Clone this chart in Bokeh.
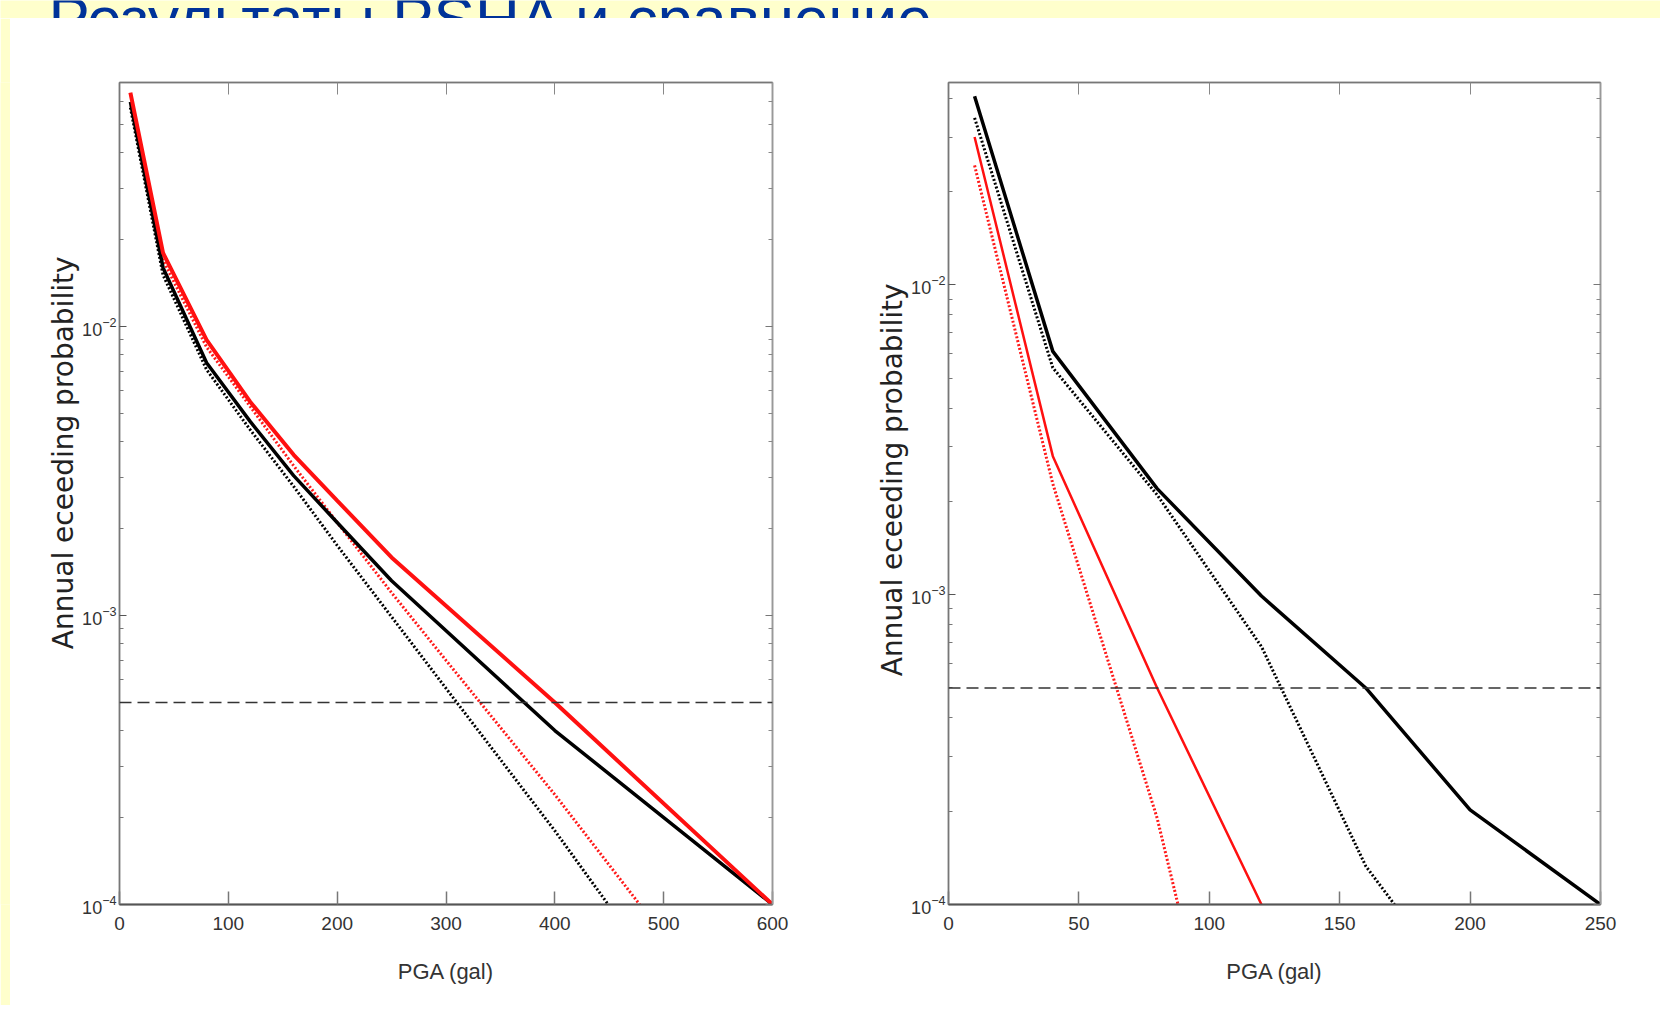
import math
from bokeh.plotting import figure
from bokeh.models import Range1d, FixedTicker, LinearAxis, LogAxis, Span, Title
from bokeh.layouts import column, row
from bokeh.embed import file_html
from bokeh.resources import INLINE
from bokeh.core.properties import value

# ---------------- data ----------------
title_text = "Результаты PSHA и сравнение"
x_label = "PGA (gal)"
y_label = "Annual eceeding probability"
threshold = 5e-4

left_xticks = [0, 100, 200, 300, 400, 500, 600]
right_xticks = [0, 50, 100, 150, 200, 250]
y_major = [1e-4, 1e-3, 1e-2]

# left panel
left_red_solid_pga = [10, 40, 80, 120, 160, 200, 250, 400, 600]
left_red_solid_p = [0.0646, 0.0180, 0.0090, 0.0055, 0.0036, 0.0025, 0.00159, 0.0005, 0.0001]
left_black_solid_pga = [10, 40, 80, 120, 160, 200, 250, 400, 600]
left_black_solid_p = [0.060, 0.0160, 0.0075, 0.0047, 0.00305, 0.0021, 0.00132, 0.0004, 0.0001]
left_red_dot_pga = [10, 40, 80, 120, 160, 200, 250, 300, 400, 478]
left_red_dot_p = [0.060, 0.0170, 0.0085, 0.0053, 0.0033, 0.0021, 0.0012, 0.0007, 0.00024, 0.0001]
left_black_dot_pga = [10, 40, 80, 120, 160, 200, 250, 300, 400, 449]
left_black_dot_p = [0.0573, 0.0151, 0.0071, 0.0044, 0.0028, 0.00175, 0.00099, 0.00056, 0.00018, 0.0001]

# right panel
right_black_solid_pga = [10, 40, 80, 120, 160, 200, 250]
right_black_solid_p = [0.0406, 0.0061, 0.0022, 0.00099, 0.0005, 0.000202, 0.0001]
right_black_dot_pga = [10, 40, 80, 120, 160, 171]
right_black_dot_p = [0.0346, 0.0054, 0.0021, 0.00068, 0.000133, 0.0001]
right_red_solid_pga = [10, 40, 80, 120]
right_red_solid_p = [0.030, 0.0028, 0.0005, 0.0001]
right_red_dot_pga = [10, 40, 80, 88]
right_red_dot_p = [0.0243, 0.00228, 0.00019, 0.0001]

YELLOW = "#FFFFCC"
TICK_FONT = "Liberation Sans"
ROW_H = 987


def minor_ticks(ymax):
    out = []
    for e in (-4, -3, -2, -1):
        for k in range(2, 10):
            v = k * 10 ** e
            if v < ymax:
                out.append(v)
    return out


def make_panel(width, bl, br, xmax, xticks, ymax, series, lab_offset):
    p = figure(width=width, height=ROW_H, x_range=Range1d(0, xmax),
               y_range=Range1d(1e-4, ymax), y_axis_type="log",
               output_backend="svg", toolbar_location=None,
               min_border_left=bl, min_border_right=br,
               min_border_top=64, min_border_bottom=101)
    p.background_fill_color = "white"
    p.border_fill_color = "white"
    p.outline_line_color = "#8a8a8a"
    p.outline_line_width = 1.5
    p.xgrid.visible = False
    p.ygrid.visible = False

    yt = FixedTicker(ticks=y_major, minor_ticks=minor_ticks(ymax))
    xt = FixedTicker(ticks=xticks)

    xa = p.xaxis[0]
    xa.ticker = xt
    xa.major_tick_in = 13
    xa.major_tick_out = 0
    xa.minor_tick_line_color = None
    xa.axis_line_color = "#555555"
    xa.axis_line_width = 2
    xa.major_tick_line_color = "#777777"
    xa.major_tick_line_width = 1.5
    xa.major_label_text_font = TICK_FONT
    xa.major_label_text_font_size = "19px"
    xa.major_label_text_color = "#333333"
    xa.major_label_standoff = 12
    xa.axis_label = x_label
    xa.axis_label_text_font = TICK_FONT
    xa.axis_label_text_font_size = "22px"
    xa.axis_label_text_font_style = "normal"
    xa.axis_label_text_color = "#333333"
    xa.axis_label_standoff = 26

    ya = p.yaxis[0]
    ya.ticker = yt
    ya.major_tick_in = 7
    ya.major_tick_out = 0
    ya.minor_tick_in = 4
    ya.minor_tick_out = 0
    ya.axis_line_color = "#777777"
    ya.axis_line_width = 1.5
    ya.major_tick_line_color = "#555555"
    ya.minor_tick_line_color = "#777777"
    ya.major_label_text_font = TICK_FONT
    ya.major_label_text_font_size = "18px"
    ya.major_label_text_color = "#333333"
    ya.major_label_standoff = 3

    top = LinearAxis(ticker=FixedTicker(ticks=xticks), major_tick_in=12, major_tick_out=0,
                     minor_tick_line_color=None, axis_line_color="#777777",
                     axis_line_width=1.5, major_tick_line_color="#888888",
                     major_label_text_color=None)
    p.add_layout(top, "above")
    right = LogAxis(ticker=FixedTicker(ticks=y_major, minor_ticks=minor_ticks(ymax)),
                    major_tick_in=7, major_tick_out=0, minor_tick_in=4, minor_tick_out=0,
                    axis_line_color="#999999", axis_line_width=1.5,
                    major_tick_line_color="#777777", minor_tick_line_color="#888888",
                    major_label_text_color=None)
    p.add_layout(right, "right")

    p.add_layout(Span(location=threshold, dimension="width", line_color="#333333",
                      line_width=1.5, line_dash="12 6"))

    for xs, ys, color, lw, dash in series:
        p.line(xs, ys, line_color=color, line_width=lw, line_dash=dash)

    p.add_layout(Title(text=y_label, align="right", offset=lab_offset, standoff=0,
                       text_font="DejaVu Sans", text_font_size="28px",
                       text_font_style="normal", text_color="#222222"), "left")
    return p


left_series = [
    (left_black_dot_pga, left_black_dot_p, "black", 3, "2 2"),
    (left_red_dot_pga, left_red_dot_p, "#ff1a1a", 3, "2 2"),
    (left_black_solid_pga, left_black_solid_p, "black", 3.5, "solid"),
    (left_red_solid_pga, left_red_solid_p, "#ff1010", 4, "solid"),
]
right_series = [
    (right_red_dot_pga, right_red_dot_p, "#ff1a1a", 3, "2 2"),
    (right_black_dot_pga, right_black_dot_p, "black", 3, "2 2"),
    (right_red_solid_pga, right_red_solid_p, "#ff1010", 2.5, "solid"),
    (right_black_solid_pga, right_black_solid_p, "black", 3.5, "solid"),
]

left = make_panel(850, 109, 88, 600, left_xticks, 0.07, left_series, 174)
right = make_panel(800, 88, 60, 250, right_xticks, 0.045, right_series, 201)


def filler(w, h):
    f = figure(width=w, height=h, x_range=Range1d(0, w), y_range=Range1d(0, h),
               output_backend="svg", toolbar_location=None, min_border=0,
               x_axis_location=None, y_axis_location=None)
    f.background_fill_color = YELLOW
    f.border_fill_color = YELLOW
    f.outline_line_color = None
    f.xgrid.visible = False
    f.ygrid.visible = False
    return f


strip = filler(1660, 18)
strip.text(x=[48], y=[0], text=[title_text], text_font=value("Liberation Sans"),
           text_font_size="62px", text_color="#003399", text_baseline="alphabetic")
bar = filler(10, ROW_H)

layout = column(strip, row(bar, left, right, spacing=0), spacing=0)

open("out.html", "w").write(file_html(layout, INLINE))
